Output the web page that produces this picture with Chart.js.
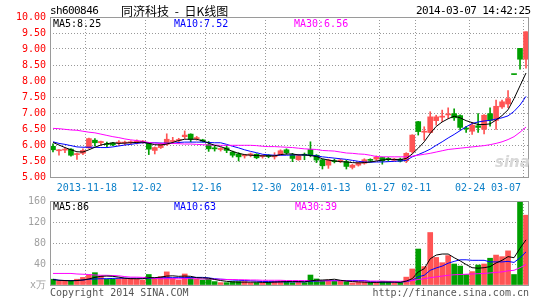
<!DOCTYPE html>
<html>
<head>
<meta charset="utf-8">
<title>同济科技 - 日K线图</title>
<script src="https://cdn.jsdelivr.net/npm/chart.js@4.4.1/dist/chart.umd.min.js"></script>
<style>
    body { margin: 0; background: #fff; }
    #wrap { position: relative; width: 545px; height: 300px; overflow: hidden; font-family: 'DejaVu Sans Mono', monospace; font-size: 10px; }
    #wrap canvas { position: absolute; left: 0; }
    .txt { position: absolute; white-space: pre; line-height: 12px; }
</style>
</head>
<body>
<div id="wrap">
    <canvas id="priceChart" width="545" height="200" style="top:0;width:545px;height:200px"></canvas>
    <canvas id="volChart" width="545" height="105" style="top:195px;width:545px;height:105px"></canvas>

    <div class="txt" style="left:50px;top:5px;font-size:11px;letter-spacing:-0.6px">sh600846</div>
    <div class="txt" style="left:121px;top:3px;font-family:'Noto Sans CJK SC',sans-serif;font-size:12px;line-height:16px;word-spacing:3px">同济科技 - 日K线图</div>
    <div class="txt" style="left:416px;top:5px;font-size:11px;letter-spacing:-0.6px">2014-03-07 14:42:25</div>

    <div class="txt" style="left:53px;top:18px;color:#000">MA5:8.25</div>
    <div class="txt" style="left:174px;top:18px;color:#0000ff">MA10:7.52</div>
    <div class="txt" style="left:294px;top:18px;color:#ff00ff">MA30:6.56</div>

    <div class="txt" style="left:53px;top:201px;color:#000">MA5:86</div>
    <div class="txt" style="left:174px;top:201px;color:#0000ff">MA10:63</div>
    <div class="txt" style="left:295px;top:201px;color:#ff00ff">MA30:39</div>

    <div class="txt" style="left:495px;top:152px;color:#d8d8d8;font-family:'DejaVu Sans',sans-serif;font-size:15px;font-style:italic;font-weight:bold;line-height:20px">sina</div>

    <div class="txt" style="left:50px;top:287px;color:#555">Copyright 2014 SINA.COM</div>
    <div class="txt" style="right:16px;top:287px;color:#555">http://finance.sina.com.cn</div>
</div>

<script>
// trading days shown on the chart
const dates = [
    '2013-11-08', '2013-11-11', '2013-11-12', '2013-11-13', '2013-11-14', '2013-11-15',
    '2013-11-18', '2013-11-19', '2013-11-20', '2013-11-21', '2013-11-22',
    '2013-11-25', '2013-11-26', '2013-11-27', '2013-11-28', '2013-11-29',
    '2013-12-02', '2013-12-03', '2013-12-04', '2013-12-05', '2013-12-06',
    '2013-12-09', '2013-12-10', '2013-12-11', '2013-12-12', '2013-12-13',
    '2013-12-16', '2013-12-17', '2013-12-18', '2013-12-19', '2013-12-20',
    '2013-12-23', '2013-12-24', '2013-12-25', '2013-12-26', '2013-12-27',
    '2013-12-30', '2013-12-31', '2014-01-02', '2014-01-03',
    '2014-01-06', '2014-01-07', '2014-01-08', '2014-01-09', '2014-01-10',
    '2014-01-13', '2014-01-14', '2014-01-15', '2014-01-16', '2014-01-17',
    '2014-01-20', '2014-01-21', '2014-01-22', '2014-01-23', '2014-01-24',
    '2014-01-27', '2014-01-28', '2014-01-29', '2014-01-30',
    '2014-02-07', '2014-02-10', '2014-02-11', '2014-02-12', '2014-02-13', '2014-02-14',
    '2014-02-17', '2014-02-18', '2014-02-19', '2014-02-20', '2014-02-21',
    '2014-02-24', '2014-02-25', '2014-02-26', '2014-02-27', '2014-02-28',
    '2014-03-03', '2014-03-04', '2014-03-05', '2014-03-06', '2014-03-07'
];

// dates that get a label and a vertical grid line
const tickDates = ['2013-11-18', '2013-12-02', '2013-12-16', '2013-12-30', '2014-01-13', '2014-01-27', '2014-02-11', '2014-02-24', '2014-03-07'];
const tickLabels = ['2013-11-18', '12-02', '12-16', '12-30', '2014-01-13', '01-27', '02-11', '02-24', '03-07      '];

const openPrices = [
    5.96, 5.82, 5.84, 5.87, 5.70, 5.74, 5.91, 6.15, 6.07, 6.03,
    6.06, 6.06, 6.06, 6.07, 6.07, 6.09, 6.05, 5.83, 5.92, 6.02,
    6.11, 6.14, 6.26, 6.34, 6.20, 6.16, 6.01, 5.90, 5.86, 5.91,
    5.78, 5.72, 5.66, 5.69, 5.71, 5.64, 5.68, 5.63, 5.70, 5.85,
    5.69, 5.54, 5.70, 5.86, 5.68, 5.54, 5.37, 5.51, 5.50, 5.48,
    5.30, 5.37, 5.43, 5.53, 5.56, 5.61, 5.57, 5.52, 5.56, 5.51,
    5.79, 6.73, 6.40, 6.39, 6.76, 6.87, 6.94, 6.98, 6.92, 6.53,
    6.43, 6.60, 6.49, 6.98, 6.77, 7.19, 7.28, 8.20, 9.02, 8.68
];
const highPrices = [
    6.04, 5.86, 5.91, 5.89, 5.75, 5.88, 6.22, 6.20, 6.12, 6.09,
    6.08, 6.14, 6.12, 6.13, 6.16, 6.14, 6.08, 5.94, 6.06, 6.35,
    6.24, 6.21, 6.44, 6.35, 6.27, 6.18, 6.11, 5.97, 5.92, 5.99,
    5.81, 5.76, 5.71, 5.75, 5.73, 5.69, 5.70, 5.76, 5.85, 5.88,
    5.74, 5.71, 5.75, 6.10, 5.70, 5.56, 5.56, 5.56, 5.56, 5.52,
    5.40, 5.47, 5.57, 5.57, 5.66, 5.62, 5.61, 5.58, 5.59, 5.76,
    6.32, 6.74, 6.57, 7.04, 6.93, 7.09, 7.16, 7.13, 6.94, 6.58,
    6.71, 6.98, 6.95, 7.16, 7.40, 7.40, 7.70, 8.20, 9.02, 9.54
];
const lowPrices = [
    5.78, 5.68, 5.76, 5.65, 5.55, 5.70, 5.89, 5.97, 5.99, 5.94,
    5.98, 5.99, 6.00, 6.03, 6.03, 6.05, 5.70, 5.72, 5.89, 5.99,
    6.04, 6.05, 6.20, 6.10, 6.15, 6.09, 5.80, 5.81, 5.81, 5.76,
    5.62, 5.50, 5.59, 5.63, 5.57, 5.59, 5.60, 5.56, 5.68, 5.71,
    5.48, 5.52, 5.54, 5.63, 5.45, 5.25, 5.27, 5.44, 5.45, 5.25,
    5.25, 5.34, 5.40, 5.47, 5.52, 5.40, 5.49, 5.50, 5.47, 5.45,
    5.74, 6.31, 6.15, 6.37, 6.62, 6.73, 6.83, 6.77, 6.47, 6.39,
    6.33, 6.39, 6.35, 6.59, 6.49, 7.14, 7.17, 8.20, 8.37, 8.40
];
const closePrices = [
    5.85, 5.85, 5.86, 5.68, 5.73, 5.83, 6.20, 6.07, 6.11, 6.01,
    6.00, 6.08, 6.08, 6.10, 6.12, 6.11, 5.87, 5.92, 6.02, 6.18,
    6.13, 6.16, 6.31, 6.18, 6.23, 6.12, 5.88, 5.88, 5.87, 5.83,
    5.68, 5.63, 5.68, 5.71, 5.60, 5.66, 5.64, 5.66, 5.82, 5.76,
    5.58, 5.67, 5.68, 5.69, 5.53, 5.35, 5.53, 5.48, 5.52, 5.33,
    5.37, 5.44, 5.54, 5.52, 5.62, 5.51, 5.55, 5.56, 5.50, 5.74,
    6.31, 6.42, 6.43, 6.88, 6.88, 6.90, 6.97, 6.85, 6.55, 6.50,
    6.62, 6.55, 6.93, 6.77, 7.21, 7.35, 7.45, 8.20, 8.68, 9.54
];

// moving averages as drawn on the price panel
const ma5 = [
    6.08, 6.00, 5.92, 5.85, 5.79, 5.78, 5.85, 5.93, 6.00, 6.04,
    6.07, 6.05, 6.06, 6.07, 6.08, 6.09, 6.05, 6.01, 6.00, 6.03,
    6.08, 6.14, 6.18, 6.18, 6.18, 6.13, 6.06, 5.99, 5.95, 5.88,
    5.80, 5.74, 5.70, 5.68, 5.67, 5.66, 5.66, 5.66, 5.70, 5.72,
    5.72, 5.69, 5.69, 5.67, 5.64, 5.57, 5.53, 5.50, 5.48, 5.47,
    5.45, 5.44, 5.45, 5.47, 5.50, 5.53, 5.55, 5.55, 5.54, 5.58,
    5.72, 5.90, 6.10, 6.36, 6.58, 6.72, 6.82, 6.90, 6.85, 6.76,
    6.70, 6.64, 6.64, 6.66, 6.78, 6.92, 7.10, 7.45, 7.85, 8.25
];
const ma10 = [
    6.10, 6.05, 6.02, 5.98, 5.94, 5.93, 5.93, 5.93, 5.92, 5.92,
    5.94, 5.97, 6.00, 6.02, 6.05, 6.07, 6.07, 6.07, 6.06, 6.06,
    6.05, 6.08, 6.09, 6.09, 6.09, 6.09, 6.08, 6.07, 6.07, 6.02,
    5.96, 5.91, 5.85, 5.80, 5.76, 5.71, 5.69, 5.68, 5.68, 5.68,
    5.69, 5.69, 5.69, 5.68, 5.66, 5.63, 5.61, 5.59, 5.57, 5.55,
    5.52, 5.49, 5.47, 5.46, 5.47, 5.47, 5.48, 5.49, 5.50, 5.52,
    5.63, 5.70, 5.78, 5.87, 5.99, 6.10, 6.22, 6.33, 6.45, 6.57,
    6.67, 6.72, 6.75, 6.77, 6.81, 6.85, 6.91, 7.05, 7.25, 7.52
];
const ma30 = [
    6.52, 6.51, 6.49, 6.47, 6.46, 6.43, 6.40, 6.38, 6.34, 6.30,
    6.26, 6.23, 6.19, 6.16, 6.14, 6.11, 6.08, 6.06, 6.05, 6.05,
    6.05, 6.04, 6.03, 6.03, 6.02, 6.01, 6.00, 6.00, 5.99, 5.99,
    5.99, 5.99, 5.99, 5.99, 5.98, 5.96, 5.95, 5.95, 5.94, 5.93,
    5.92, 5.90, 5.88, 5.87, 5.86, 5.83, 5.82, 5.81, 5.78, 5.75,
    5.74, 5.72, 5.71, 5.68, 5.64, 5.63, 5.63, 5.63, 5.63, 5.63,
    5.65, 5.68, 5.71, 5.74, 5.78, 5.82, 5.86, 5.88, 5.90, 5.92,
    5.94, 5.96, 5.98, 6.01, 6.05, 6.10, 6.17, 6.26, 6.40, 6.56
];

// volume (万)
const volumes = [
    11, 7.5, 8, 7.5, 11, 14.5, 19, 23.5, 17, 11,
    11, 12.5, 12.5, 12.5, 11, 9.5, 20, 12.5, 16, 25,
    12.5, 9.5, 21, 14.5, 11, 9.5, 11, 6.5, 4.5, 4.5,
    6.5, 6.5, 6.5, 4.5, 4.5, 4.5, 5.5, 7, 8, 6.5,
    4.5, 6.5, 4.5, 19, 11.5, 8, 9.5, 7, 7, 6.5,
    4, 5, 5.5, 4.5, 5, 6.5, 6.5, 4.5, 4.5, 15,
    30.5, 68.5, 35, 100, 52.5, 42.5, 56, 40, 36, 20,
    25.5, 38, 40, 51, 57, 54, 65, 20, 160, 133
];
const volMa5 = [
    10, 9, 8.5, 8, 8.5, 9.5, 11.5, 14.5, 16.5, 17,
    16.5, 15, 13, 12, 12, 12, 14, 14, 15, 17,
    17.5, 16.5, 17, 16.5, 14, 13.5, 13, 10.5, 8.5, 7,
    6, 5.5, 5.5, 5.5, 5.5, 5, 5, 5.5, 6, 6.5,
    6.5, 6.5, 6, 8, 9, 9.5, 10, 11, 9, 7.5,
    6.5, 6, 5.5, 5, 5, 5.5, 5.5, 5.5, 5, 7.5,
    12, 25, 31, 50, 57, 59, 59, 52, 46, 39,
    33, 32, 33, 35, 42, 47, 54, 52, 70, 86
];
const volMa10 = [
    11, 9, 8.5, 8.5, 8.5, 9.5, 11, 11.5, 12, 12,
    12.5, 13, 13, 13, 13, 13, 13, 13, 13.5, 14,
    14, 14, 14, 14.5, 14.5, 14.5, 13.5, 12, 11, 10.5,
    9.5, 9, 8.5, 8, 7.5, 6.5, 6.5, 6, 6, 6,
    6, 6, 6, 7, 7.5, 8, 8.5, 8.5, 8.5, 8.5,
    8.5, 8.5, 8.5, 6.5, 6, 5.5, 5.5, 5.5, 5.5, 6.5,
    9, 15.5, 18.5, 28, 32.5, 36, 41.5, 45, 48, 48,
    47, 47, 47, 44, 44, 44, 45, 43, 52, 63
];
const volMa30 = [
    22, 22, 22, 22, 21, 20.5, 20, 19, 18.5, 18.5,
    18, 17.5, 16, 15, 15, 14.5, 14, 12.5, 12, 12,
    12, 12, 12, 12, 12, 11.5, 11.5, 11, 11, 10.5,
    10.5, 10, 10, 9.5, 9.5, 9, 9, 9, 9, 8.5,
    8.5, 8.5, 8.5, 8.5, 8, 8, 8, 8, 8, 8,
    7.5, 7.5, 7.5, 7.5, 7.5, 7.5, 7, 7, 7, 7.5,
    8.5, 10.5, 12, 14, 15.5, 17, 18.5, 19.5, 20, 20.5,
    21, 21.5, 22, 23, 24, 25, 27, 28, 33, 39
];

const UP_COLOR = '#ff5454';
const DOWN_COLOR = '#009f00';
const GRID_COLOR = '#999999';
const FRAME_COLOR = '#9a9a9a';

Chart.defaults.font.family = "'DejaVu Sans Mono', monospace";
Chart.defaults.font.size = 10;

// candle colour: red when it closed above the open
const candleColors = closePrices.map((c, i) => (c > openPrices[i] ? UP_COLOR : DOWN_COLOR));

function isTickDate(index) {
    return tickDates.indexOf(dates[index]) !== -1;
}

// draws the grey box round the plot area
const framePlugin = {
    id: 'frame',
    afterDraw(chart) {
        const a = chart.chartArea;
        const ctx = chart.ctx;
        ctx.save();
        ctx.strokeStyle = FRAME_COLOR;
        ctx.lineWidth = 1;
        ctx.strokeRect(a.left + 0.5, a.top + 0.5, a.right - a.left - 1, a.bottom - a.top);
        ctx.restore();
    }
};

// keep tick labels from pushing the plot area in
function noLabelPadding(scale) {
    scale.paddingLeft = 0;
    scale.paddingRight = 0;
    scale.paddingTop = 0;
    scale.paddingBottom = 0;
}

function xScaleOptions(showLabels, height) {
    return {
        offset: true,
        grid: {
            offset: true,
            drawTicks: false,
            color: (c) => (isTickDate(c.index) ? GRID_COLOR : 'rgba(0,0,0,0)')
        },
        border: { display: false, dash: [1, 2] },
        ticks: {
            display: showLabels,
            autoSkip: false,
            maxRotation: 0,
            color: '#0a7fc8',
            padding: 5,
            labelOffset: -2,
            callback: function(value, index) {
                const k = tickDates.indexOf(dates[index]);
                return k === -1 ? '' : tickLabels[k];
            }
        },
        afterFit: function(scale) {
            scale.height = height;
            noLabelPadding(scale);
        }
    };
}

function initializeCharts() {
    if (typeof Chart === 'undefined') {
        console.error('Chart.js is not loaded');
        return;
    }

    const wicks = lowPrices.map((l, i) => [l, highPrices[i]]);
    const bodies = openPrices.map((o, i) => [o, closePrices[i]]);

    try {
        new Chart(document.getElementById('priceChart'), {
            data: {
                labels: dates,
                datasets: [
                    { type: 'bar', data: wicks, backgroundColor: candleColors, barThickness: 1, grouped: false, order: 3 },
                    { type: 'bar', data: bodies, backgroundColor: candleColors, barThickness: 5, minBarLength: 1, grouped: false, order: 2 },
                    { type: 'line', data: ma30, borderColor: '#ff00ff', borderWidth: 1, pointRadius: 0, order: 1 },
                    { type: 'line', data: ma10, borderColor: '#0000ff', borderWidth: 1, pointRadius: 0, order: 1 },
                    { type: 'line', data: ma5, borderColor: '#000000', borderWidth: 1, pointRadius: 0, order: 0 }
                ]
            },
            options: {
                responsive: false,
                animation: false,
                layout: { padding: { left: 0, right: 16, top: 17, bottom: 0 } },
                plugins: { legend: { display: false }, tooltip: { enabled: false } },
                scales: {
                    x: xScaleOptions(true, 23),
                    y: {
                        min: 5,
                        max: 10,
                        ticks: { stepSize: 0.5, color: '#ff0000', padding: 4, callback: (v) => v.toFixed(2) },
                        grid: { color: GRID_COLOR, drawTicks: false },
                        border: { display: false, dash: [1, 2] },
                        afterFit: function(scale) { scale.width = 50; noLabelPadding(scale); }
                    }
                }
            },
            plugins: [framePlugin]
        });

        new Chart(document.getElementById('volChart'), {
            data: {
                labels: dates,
                datasets: [
                    { type: 'bar', data: volumes, backgroundColor: candleColors, barThickness: 5, grouped: false, order: 2 },
                    { type: 'line', data: volMa30, borderColor: '#ff00ff', borderWidth: 1, pointRadius: 0, order: 1 },
                    { type: 'line', data: volMa10, borderColor: '#0000ff', borderWidth: 1, pointRadius: 0, order: 1 },
                    { type: 'line', data: volMa5, borderColor: '#000000', borderWidth: 1, pointRadius: 0, order: 0 }
                ]
            },
            options: {
                responsive: false,
                animation: false,
                layout: { padding: { left: 0, right: 16, top: 6, bottom: 0 } },
                plugins: { legend: { display: false }, tooltip: { enabled: false } },
                scales: {
                    x: xScaleOptions(false, 15),
                    y: {
                        min: 0,
                        max: 160,
                        ticks: { stepSize: 40, color: '#a0a0a0', padding: 4, callback: (v) => (v === 0 ? 'x万' : v) },
                        grid: { color: GRID_COLOR, drawTicks: false },
                        border: { display: false, dash: [1, 2] },
                        afterFit: function(scale) { scale.width = 50; noLabelPadding(scale); }
                    }
                }
            },
            plugins: [framePlugin]
        });
    } catch (e) {
        console.error('Error creating chart:', e);
    }
}

initializeCharts();
</script>
</body>
</html>
